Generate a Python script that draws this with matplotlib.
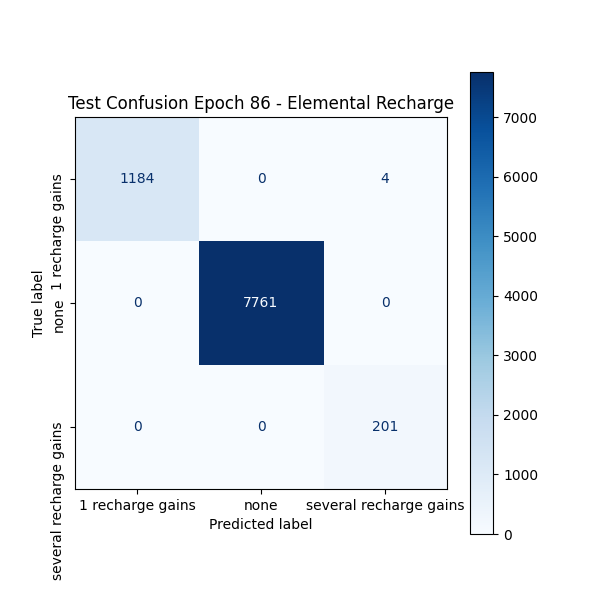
import numpy as np
import matplotlib.pyplot as plt

labels = ["1 recharge gains", "none", "several recharge gains"]
cm = np.array([
    [1184, 0, 4],
    [0, 7761, 0],
    [0, 0, 201],
])

fig, ax = plt.subplots(figsize=(6, 6), dpi=100)
cmap = plt.get_cmap("Blues")
im = ax.imshow(cm, interpolation="nearest", cmap=cmap)

cmap_min, cmap_max = cmap(0), cmap(1.0)
thresh = (cm.max() + cm.min()) / 2.0
for i in range(cm.shape[0]):
    for j in range(cm.shape[1]):
        color = cmap_min if cm[i, j] >= thresh else cmap_max
        ax.text(j, i, format(cm[i, j], "d"), ha="center", va="center", color=color)

fig.colorbar(im, ax=ax)
ax.set(
    xticks=np.arange(len(labels)),
    yticks=np.arange(len(labels)),
    xticklabels=labels,
    yticklabels=labels,
    ylabel="True label",
    xlabel="Predicted label",
)
ax.set_ylim((len(labels) - 0.5, -0.5))
plt.setp(ax.get_yticklabels(), rotation="vertical")
ax.set_title("Test Confusion Epoch 86 - Elemental Recharge")

fig.savefig("out.png")
